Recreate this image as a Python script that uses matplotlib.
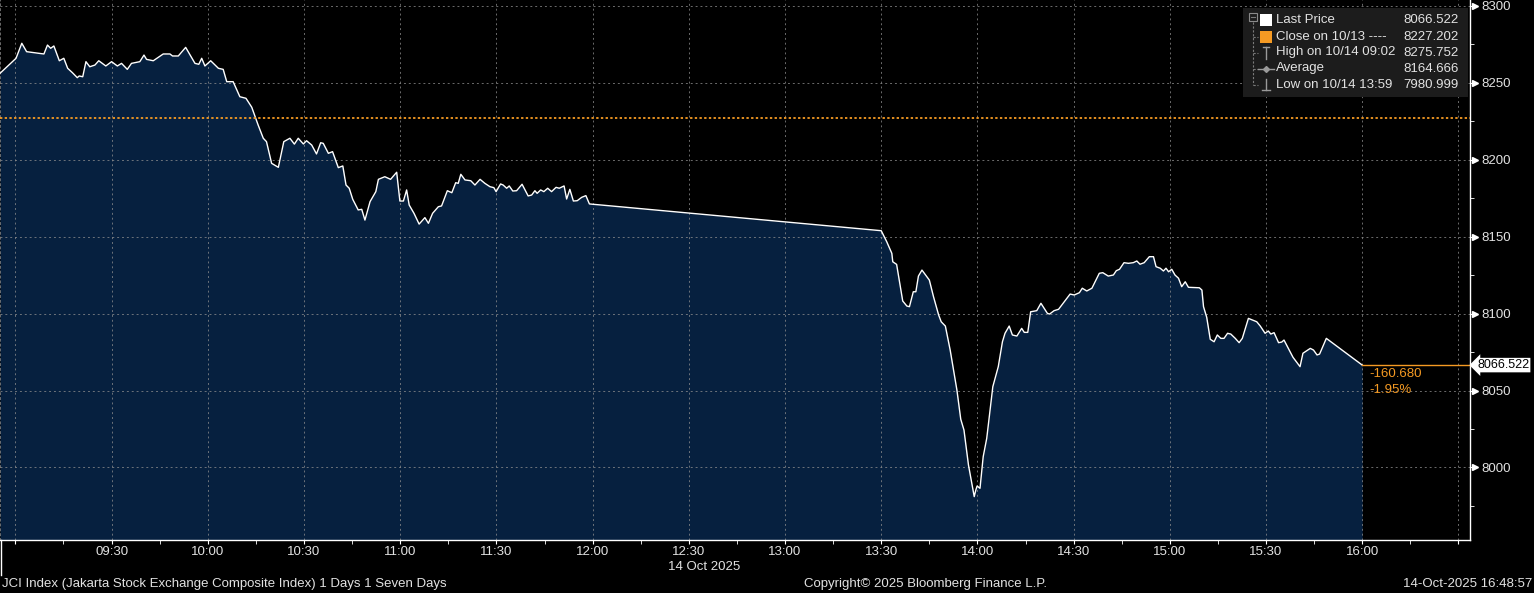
import numpy as np
import pandas as pd
import matplotlib
matplotlib.use('Agg')
import matplotlib.pyplot as plt
import matplotlib.dates as mdates
from matplotlib.patches import Rectangle
from matplotlib.lines import Line2D
from matplotlib.ticker import FuncFormatter, MultipleLocator
from matplotlib.transforms import blended_transform_factory

plt.rcParams['font.family'] = ['Liberation Sans', 'DejaVu Sans']

# JCI intraday, minutes after 09:00 on 14 Oct 2025
minutes = [
    -4.8, 0.2, 2.0, 3.5, 8.9, 10.0, 11.0, 12.0, 13.7, 15.1, 16.3, 17.8, 19.3, 19.9,
    21.0, 22.0, 23.2, 24.8, 26.0, 28.2, 30.0, 31.8, 33.1, 34.9, 36.2, 38.8, 40.1,
    40.9, 43.0, 46.1, 48.2, 49.0, 50.8, 53.1, 56.0, 57.2, 58.1, 59.1, 60.9, 63.3,
    64.8, 65.9, 67.9, 70.0, 71.9, 73.7, 75.7, 77.3, 78.3, 79.9, 82.0, 83.7, 85.6,
    87.0, 88.2, 89.8, 90.8, 92.4, 93.9, 95.2, 96.0, 97.6, 98.9, 100.7, 102.1, 103.1,
    104.1, 105.2, 106.9, 108.0, 109.0, 110.6, 112.4, 113.2, 115.2, 117.0, 118.9,
    119.9, 121.0, 122.0, 122.8, 124.3, 125.9, 127.7, 128.8, 130.1, 131.9, 132.9,
    134.7, 136.1, 137.3, 138.1, 138.9, 140.2, 142.0, 143.3, 144.9, 146.4, 148.0,
    149.2, 149.9, 151.3, 152.1, 153.2, 154.0, 155.1, 156.3, 158.0, 159.9, 161.0,
    162.0, 162.7, 163.8, 164.8, 166.0, 167.2, 168.6, 169.6, 171.1, 171.9, 172.9,
    174.0, 175.2, 176.6, 177.9, 179.0,
    270.0, 271.7, 273.3, 273.6, 274.8, 275.7, 276.7, 278.0, 278.8, 280.0, 280.8,
    281.6, 282.7, 285.0, 286.3, 287.9, 288.7, 290.0, 291.5, 293.6, 294.8, 295.8,
    297.2, 299.0, 299.5, 299.9, 300.8, 301.8, 302.9, 304.8, 306.5, 307.8, 308.6,
    309.9, 310.9, 312.3, 313.8, 314.6, 315.7, 316.6, 318.5, 319.8, 321.8, 322.5,
    323.9, 325.3, 328.9, 330.2, 331.8, 332.7, 334.1, 335.7, 338.0, 339.1, 340.8,
    342.4, 343.3, 344.3, 345.7, 347.1, 348.6, 349.7, 350.7, 352.0, 353.6, 354.9,
    355.7, 357.0, 358.0, 358.8, 359.6, 360.6, 361.6, 362.7, 363.7, 364.8, 365.8,
    369.2, 370.0, 370.5, 371.5, 372.6, 373.8, 374.8, 375.9, 376.9, 378.0, 379.0,
    380.4, 381.6, 382.6, 384.5, 387.1, 388.2, 389.7, 390.7, 391.5, 392.5, 393.9,
    394.9, 395.6, 398.4, 400.6, 401.5, 403.8, 404.8, 405.9, 406.7, 408.8, 420.0,
]
prices = [
    8256.2, 8266.0, 8275.752, 8270.3, 8268.8, 8274.6, 8272.5, 8274.0, 8264.4, 8266.0,
    8259.5, 8256.6, 8253.4, 8254.5, 8254.0, 8263.8, 8260.5, 8261.6, 8264.4, 8261.0,
    8263.8, 8261.0, 8262.7, 8258.8, 8262.7, 8263.8, 8268.1, 8265.3, 8264.4, 8268.8,
    8268.8, 8267.5, 8267.5, 8273.1, 8262.7, 8262.1, 8266.0, 8261.0, 8264.4, 8259.5,
    8258.8, 8250.8, 8250.8, 8241.0, 8240.0, 8234.2, 8222.6, 8214.0, 8211.8, 8197.7,
    8195.1, 8211.8, 8214.0, 8210.2, 8214.0, 8210.3, 8212.4, 8209.6, 8203.8, 8211.1,
    8210.7, 8204.2, 8205.3, 8194.9, 8196.0, 8183.6, 8181.5, 8174.3, 8167.4, 8167.8,
    8160.8, 8172.8, 8179.3, 8187.3, 8189.0, 8187.3, 8191.9, 8173.2, 8173.2, 8180.4,
    8170.6, 8165.2, 8158.2, 8162.4, 8158.7, 8165.2, 8169.5, 8170.0, 8179.9, 8178.6,
    8185.1, 8184.7, 8190.6, 8186.9, 8186.4, 8183.6, 8187.3, 8184.7, 8182.5, 8181.9,
    8179.3, 8184.3, 8183.6, 8181.5, 8183.0, 8179.7, 8179.9, 8184.1, 8176.5, 8177.1,
    8179.9, 8178.2, 8180.4, 8179.3, 8181.5, 8179.3, 8182.1, 8181.5, 8183.0, 8174.5,
    8180.8, 8173.2, 8173.4, 8175.6, 8176.7, 8171.3,
    8153.9, 8146.8, 8139.2, 8133.7, 8132.0, 8120.7, 8108.2, 8104.9, 8104.5, 8114.2,
    8114.2, 8124.4, 8128.3, 8121.8, 8111.0, 8099.1, 8094.7, 8091.9, 8076.3, 8050.3,
    8031.3, 8024.3, 8001.6, 7980.999, 7985.3, 7987.9, 7986.4, 8007.0, 8018.9, 8052.5,
    8065.5, 8081.7, 8087.2, 8091.9, 8086.1, 8085.4, 8090.4, 8087.8, 8087.8, 8101.2,
    8101.9, 8106.7, 8100.2, 8099.7, 8101.9, 8102.8, 8112.7, 8112.1, 8113.6, 8116.5,
    8114.7, 8116.5, 8126.2, 8126.6, 8124.4, 8125.1, 8127.9, 8128.8, 8133.1, 8132.7,
    8133.1, 8134.2, 8132.1, 8133.1, 8137.0, 8137.0, 8130.5, 8129.5, 8127.7, 8129.5,
    8127.2, 8128.8, 8125.1, 8123.0, 8117.5, 8120.7, 8117.1, 8116.8, 8115.3, 8104.5,
    8097.6, 8083.3, 8081.7, 8086.1, 8083.9, 8083.9, 8087.2, 8086.7, 8083.9, 8081.1,
    8083.9, 8096.9, 8094.7, 8091.9, 8087.2, 8088.7, 8086.7, 8087.6, 8081.1, 8081.5,
    8082.8, 8071.6, 8065.5, 8074.2, 8077.4, 8076.3, 8073.1, 8073.7, 8083.9, 8066.522,
]
prev_close = 8227.202
average_price = 8164.666
y_ticks = [8000, 8050, 8100, 8150, 8200, 8250, 8300]

title_text = 'JCI Index (Jakarta Stock Exchange Composite Index) 1 Days 1 Seven Days'
copyright_text = 'Copyright\u00a9 2025 Bloomberg Finance L.P.'
stamp_text = '14-Oct-2025 16:48:57'
date_text = '14 Oct 2025'

W, H = 1534, 593
ORANGE = '#f59a23'
FILL = '#06203f'
TXT = '#e2e2e2'
GRID = '#8f8f8f'
FS = 9.5

base = pd.Timestamp('2025-10-14 09:00')
times = base + pd.to_timedelta(minutes, unit='min')
xs = mdates.date2num(times.to_pydatetime())
x_lo = mdates.date2num(base + pd.Timedelta(minutes=-4.8))
x_hi = mdates.date2num(base + pd.Timedelta(minutes=453.6))
y_lo, y_hi = 7952.8, 8303.9

last = prices[-1]
change = last - prev_close
pct = change / prev_close * 100
i_hi = int(np.argmax(prices))
i_lo = int(np.argmin(prices))


def fx(x):
    return x / W


def fy(y):
    return 1 - y / H


fig = plt.figure(figsize=(W / 100, H / 100), dpi=100, facecolor='black')
ax = fig.add_axes([0, fy(540), fx(1470), 540 / H])
ax.set_facecolor('black')

ax.fill_between(xs, prices, y_lo, color=FILL, lw=0, zorder=1)
ax.plot(xs, prices, color='white', lw=1.0, zorder=3)
ax.axhline(prev_close, color=ORANGE, lw=1.3, ls=(0, (1.3, 1.3)), zorder=4)
ax.plot([xs[-1], x_hi], [last, last], color=ORANGE, lw=1.0, zorder=4, clip_on=False)

ax.set_xlim(x_lo, x_hi)
ax.set_ylim(y_lo, y_hi)
ax.set_axisbelow('line')
ax.grid(True, which='major', color=GRID, ls=(0, (2, 3)), lw=0.7, alpha=0.75)

ax.spines['top'].set_visible(False)
ax.spines['left'].set(color=GRID, linestyle=(0, (2, 3)), lw=0.7, alpha=0.75)
ax.spines['right'].set(color='white', lw=1.0)
ax.spines['bottom'].set(color='white', lw=1.0)

# x axis
ax.xaxis.set_major_locator(mdates.MinuteLocator(byminute=[0, 30]))
ax.xaxis.set_minor_locator(mdates.MinuteLocator(byminute=[15, 45]))
first_lab = mdates.date2num(base + pd.Timedelta(minutes=30))
last_lab = mdates.date2num(base + pd.Timedelta(hours=7))


def tfmt(v, pos):
    if v < first_lab - 1e-6 or v > last_lab + 1e-6:
        return ''
    return mdates.num2date(v).strftime('%H:%M')


ax.xaxis.set_major_formatter(FuncFormatter(tfmt))
ax.tick_params(axis='x', which='both', direction='out', length=3, color='white',
               labelcolor=TXT, labelsize=FS, pad=1.5)

# y axis on the right
ax.yaxis.tick_right()
ax.set_yticks(y_ticks)
ax.yaxis.set_minor_locator(MultipleLocator(25))
ax.tick_params(axis='y', which='major', direction='out', length=3, color='white',
               labelcolor=TXT, labelsize=FS, pad=5)
ax.tick_params(axis='y', which='minor', direction='out', length=3, color='white')
trans = blended_transform_factory(ax.transAxes, ax.transData)
ax.plot([1 + 5 / 1470] * len(y_ticks), y_ticks, ls='none', marker='>', ms=4.5,
        color='white', transform=trans, clip_on=False)

ax.text(1 + 7 / 1470, last, f'{last:.3f}', transform=trans, va='center', ha='left',
        color='black', fontsize=9, clip_on=False, zorder=6,
        bbox=dict(boxstyle='larrow,pad=0.1', fc='white', ec='none'))
ax.annotate(f'{change:.3f}', xy=(xs[-1], last), xytext=(5, -6.5), textcoords='offset points',
            color=ORANGE, fontsize=FS, va='center', ha='left')
ax.annotate(f'{pct:.2f}%', xy=(xs[-1], last), xytext=(5, -18), textcoords='offset points',
            color=ORANGE, fontsize=FS, va='center', ha='left')

# legend panel
ft = fig.transFigure
fig.add_artist(Rectangle((fx(1243), fy(97)), 225 / W, 89 / H, transform=ft,
                         fc='#1c1c1c', ec='none', zorder=5))
rows_y = [20, 36.5, 52.5, 68.5, 84.5]
leg_labels = ['Last Price', 'Close on 10/13 ----',
              'High on 10/14 ' + times[i_hi].strftime('%H:%M'),
              'Average',
              'Low on 10/14 ' + times[i_lo].strftime('%H:%M')]
leg_values = [last, prev_close, prices[i_hi], average_price, prices[i_lo]]
for ry, lab, val in zip(rows_y, leg_labels, leg_values):
    fig.text(fx(1276), fy(ry), lab, color=TXT, fontsize=FS, va='center', ha='left', zorder=6)
    fig.text(fx(1459), fy(ry), f'{val:.3f}', color=TXT, fontsize=FS, va='center',
             ha='right', zorder=6)

icon = '#9a9a9a'
tree = dict(color='#7a7a7a', lw=0.8, transform=ft, zorder=6)
fig.add_artist(Rectangle((fx(1249), fy(21)), 8 / W, 8 / H, transform=ft, fc='none',
                         ec='#8a8a8a', lw=0.8, zorder=6))
fig.add_artist(Line2D([fx(1251), fx(1255)], [fy(17), fy(17)], **tree))
fig.add_artist(Line2D([fx(1253), fx(1253)], [fy(22), fy(84.5)], ls=(0, (2, 1.5)), **tree))
for ry in rows_y[1:]:
    fig.add_artist(Line2D([fx(1253), fx(1258)], [fy(ry), fy(ry)], ls=(0, (2, 1.5)), **tree))

fig.add_artist(Rectangle((fx(1260), fy(26)), 12 / W, 12 / H, transform=ft, fc='white',
                         ec='none', zorder=6))
fig.add_artist(Rectangle((fx(1260), fy(42.5)), 12 / W, 12 / H, transform=ft, fc=ORANGE,
                         ec='none', zorder=6))
sym = dict(color=icon, lw=1.0, transform=ft, zorder=6)
fig.add_artist(Line2D([fx(1266), fx(1266)], [fy(46.5), fy(58.5)], **sym))
fig.add_artist(Line2D([fx(1263), fx(1269)], [fy(46.5), fy(46.5)], **sym))
fig.add_artist(Line2D([fx(1258), fx(1274)], [fy(68.5), fy(68.5)], **sym))
fig.add_artist(Line2D([fx(1266)], [fy(68.5)], marker='D', ms=3, ls='none', **sym))
fig.add_artist(Line2D([fx(1266), fx(1266)], [fy(78.5), fy(90)], **sym))
fig.add_artist(Line2D([fx(1262), fx(1270)], [fy(90), fy(90)], **sym))

# footer
fig.add_artist(Line2D([fx(0.5), fx(0.5)], [fy(540), fy(575)], color='white', lw=1.0,
                      transform=ft))
fig.text(fx(704), fy(567), date_text, color=TXT, fontsize=FS, ha='center', va='center')
fig.text(fx(2), fy(584), title_text, color=TXT, fontsize=FS, ha='left', va='center')
fig.text(fx(804), fy(584), copyright_text, color=TXT, fontsize=FS, ha='left', va='center')
fig.text(fx(1532), fy(584), stamp_text, color=TXT, fontsize=FS, ha='right', va='center')

fig.savefig('out.png', dpi=100, facecolor='black')
